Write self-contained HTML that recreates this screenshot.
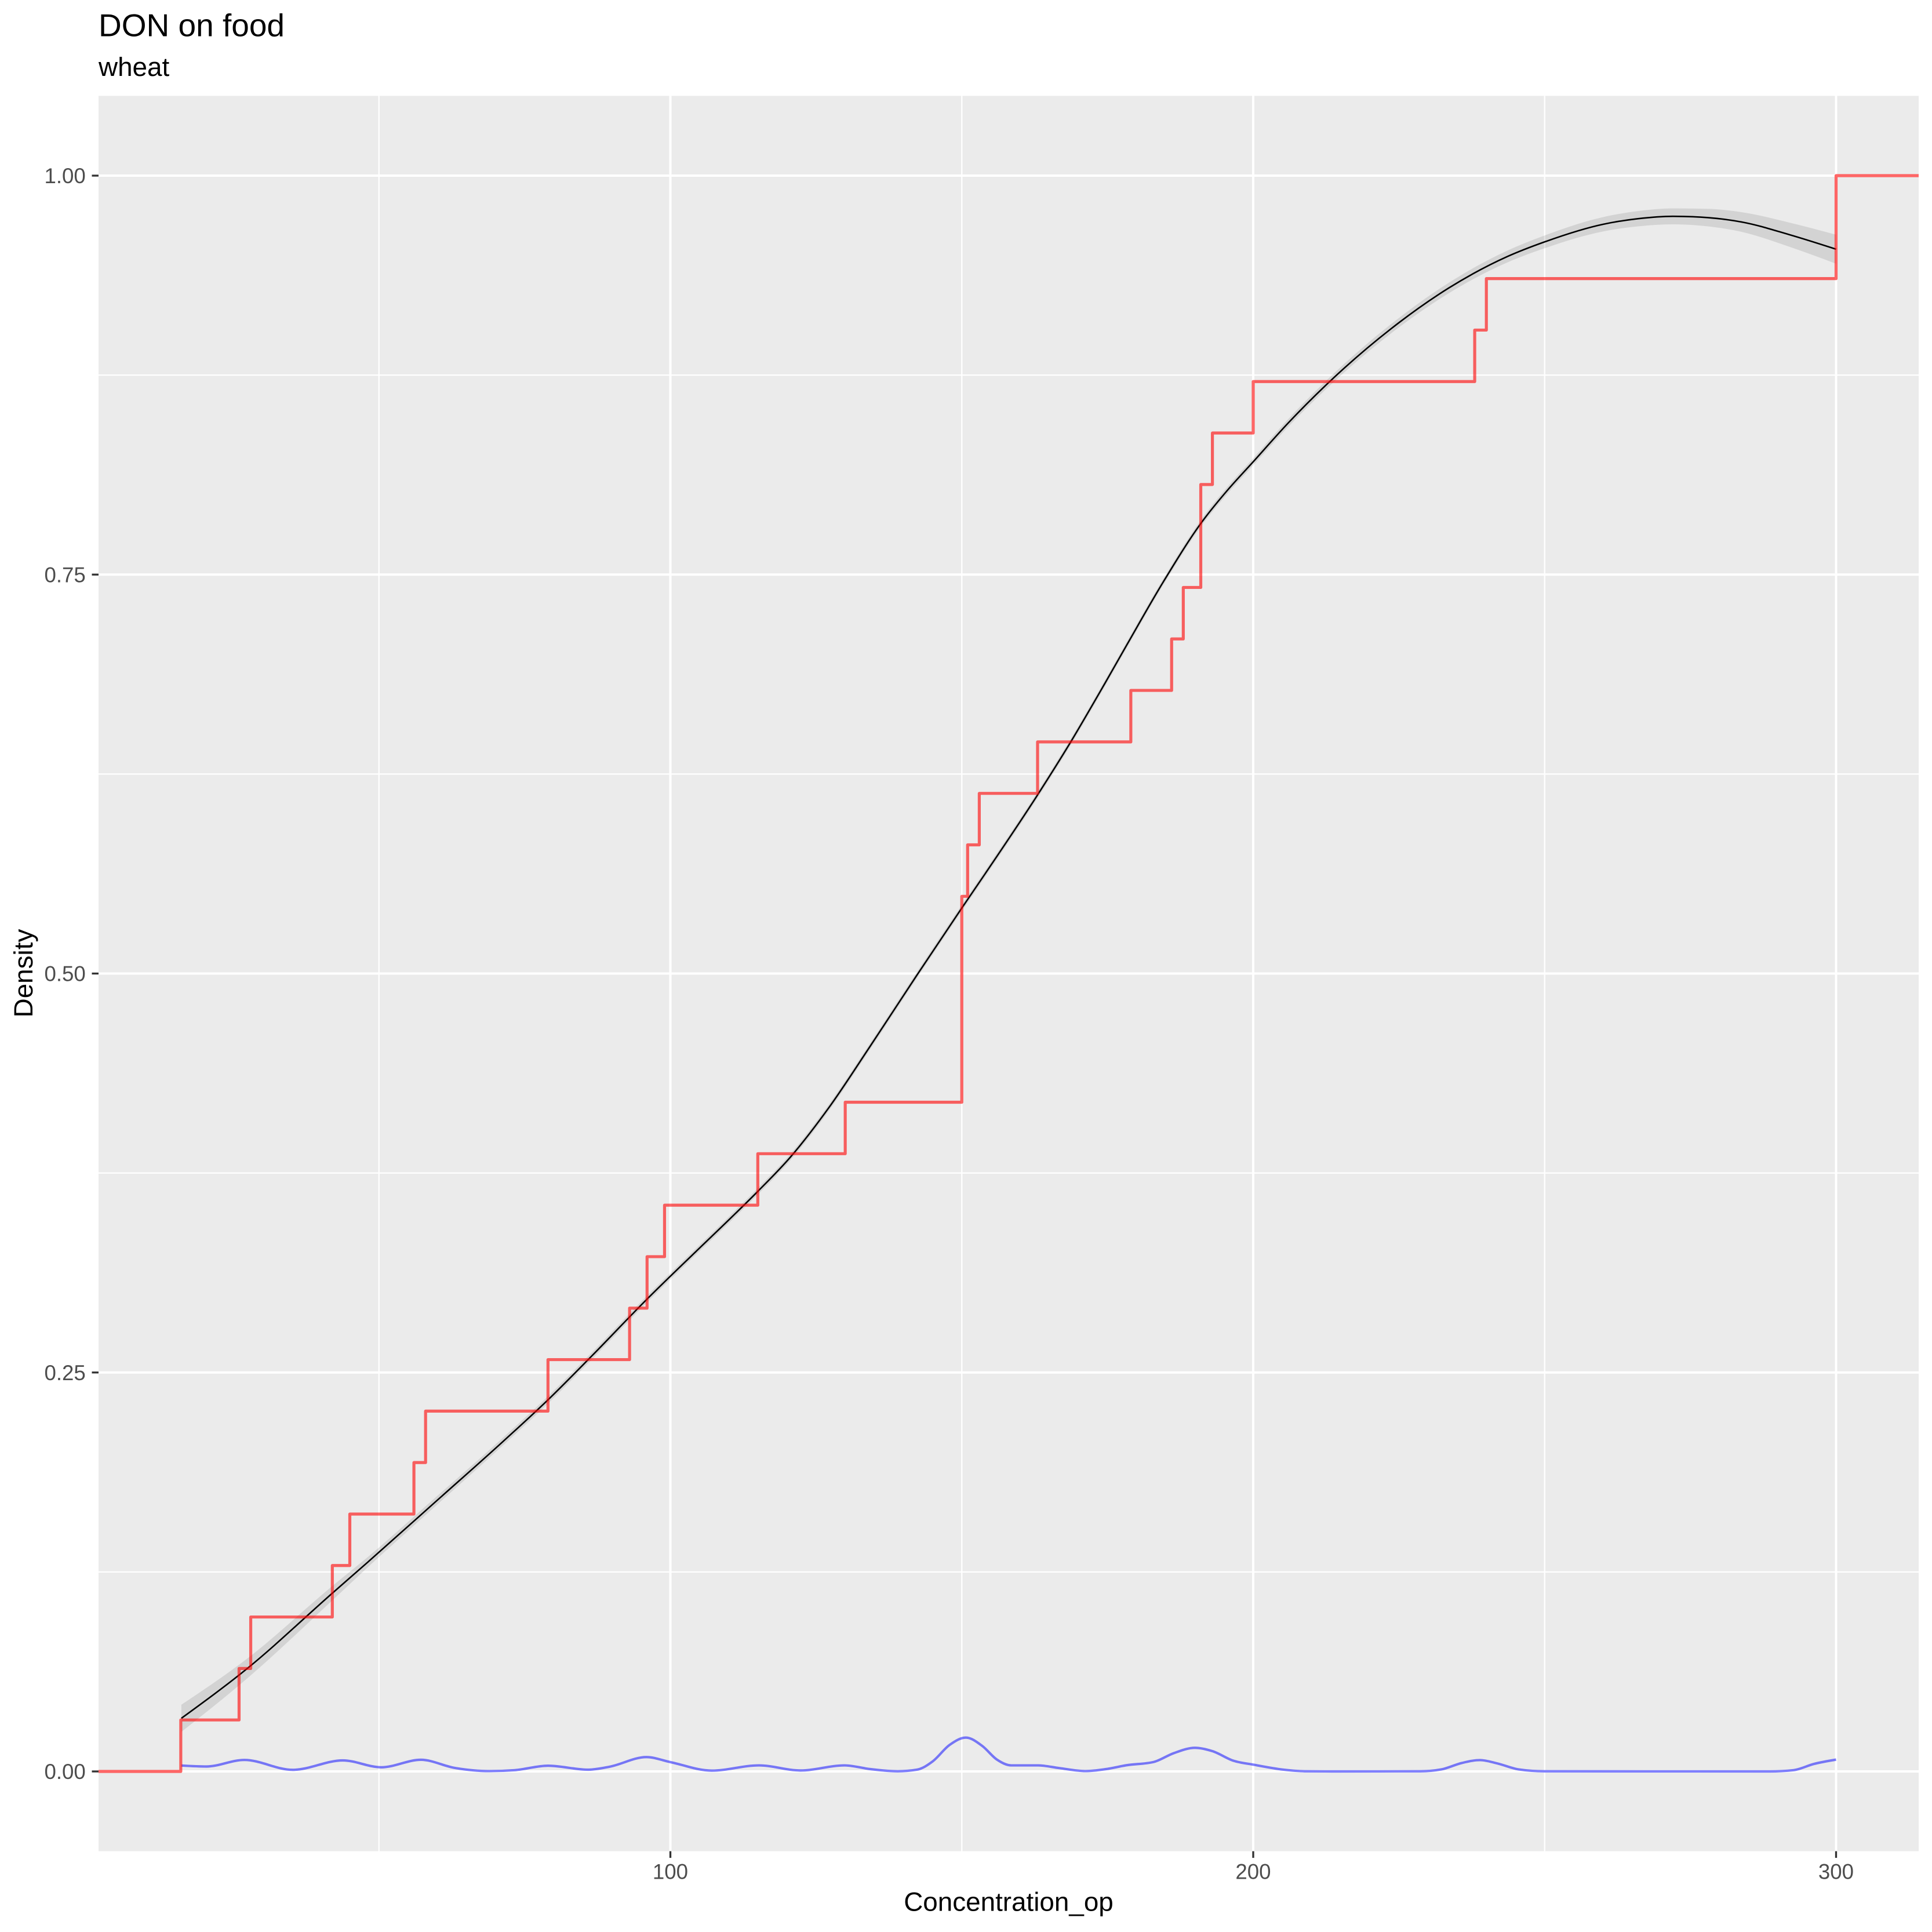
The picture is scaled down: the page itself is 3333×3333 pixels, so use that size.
<!DOCTYPE html>
<html lang="en">
<head>
<meta charset="utf-8">
<title>DON on food - wheat</title>
<style>
html,body{margin:0;padding:0;background:#fff;}
svg{display:block;}
text{font-family:"Liberation Sans",Arial,sans-serif;}
</style>
</head>
<body>
<svg id="chart" xmlns="http://www.w3.org/2000/svg" width="3333" height="3333" viewBox="0 0 3333 3333">
  <defs><clipPath id="panel-clip"><rect x="170" y="165.4" width="3140" height="3028.2"/></clipPath></defs>
  <rect x="0" y="0" width="3333" height="3333" fill="#ffffff"/>
  <rect x="170" y="165.4" width="3140" height="3028.2" fill="#EBEBEB"/>
  <g id="grid"></g>
  <g id="ticks"></g>
  <g id="marks" clip-path="url(#panel-clip)"></g>
  <text x="170" y="62.7" font-size="55" fill="#000">DON on food</text>
  <text x="170" y="131" font-size="45.8" fill="#000">wheat</text>
  <text x="1740" y="3296.7" font-size="45.8" text-anchor="middle" fill="#000">Concentration_op</text>
  <text transform="translate(56,1679) rotate(-90)" font-size="45.8" text-anchor="middle" fill="#000">Density</text>
</svg>
<script>
// ---- data ----
const observations = [16,26,28,42,45,56,58,79,93,96,99,115,130,150,150,150,150,151,153,163,179,186,188,191,191,193,200,238,240,300,300];

const smoothX = [16.1,27.5,42,48.1,59.9,71.3,78.9,86.5,96,104.3,110.7,115,120.6,127.3,134.2,142.3,149.9,154,163.1,168.5,174.5,178.4,184.5,191.3,195.5,200,206,213.1,223.7,233.6,243.6,250,260,266,272,278,284,292,300];
const smoothY = [0.0333,0.0648,0.1117,0.1312,0.1696,0.2068,0.2325,0.2603,0.2960,0.3255,0.3480,0.3635,0.3850,0.4165,0.4540,0.4990,0.5405,0.5625,0.6125,0.6440,0.6815,0.7065,0.7450,0.7835,0.8025,0.8207,0.8450,0.8709,0.9042,0.9297,0.9493,0.9585,0.9695,0.9730,0.9745,0.9737,0.9708,0.9630,0.9539];
const smoothSe = [0.0085,0.0062,0.0045,0.0032,0.0027,0.0024,0.0023,0.0022,0.0021,0.0020,0.0020,0.0020,0.0020,0.0020,0.0020,0.0020,0.0020,0.0020,0.0020,0.0020,0.0020,0.0020,0.0020,0.0021,0.0022,0.0022,0.0024,0.0026,0.0029,0.0033,0.0037,0.0040,0.0045,0.0048,0.0050,0.0055,0.0062,0.0076,0.0091];

const densityX = [16.1,20.4,26.9,35.2,43.8,50.4,57.2,63,68.9,73.3,79,85.9,89.5,95.9,99.95,107.1,115.2,122.3,129.9,134.2,139,142.3,145,147.9,150.7,153.5,156,158.5,163.1,166.7,171.2,174.8,178.3,182.9,186.4,190,193,196.6,200.1,205.2,208.8,213.7,228.7,232.3,235.8,238.9,241.9,245.5,250,288.6,292.7,296.2,300];
const densityY = [0.0037,0.0031,0.0072,0.0010,0.0069,0.0026,0.0073,0.0022,0.0002,0.0008,0.0036,0.0011,0.0029,0.0090,0.0059,0.0005,0.0038,0.0006,0.0038,0.0015,0.0001,0.0011,0.0063,0.0166,0.0212,0.0160,0.0075,0.0038,0.0038,0.0021,0.0002,0.0015,0.0039,0.0059,0.0115,0.0148,0.0127,0.0067,0.0042,0.0011,0.0001,0,0.0001,0.0013,0.0053,0.0071,0.0050,0.0013,0.0001,0,0.0008,0.0047,0.0074];

const xMajorTicks = [100,200,300];
const xMinorTicks = [50,150,250];
const yMajorTicks = [0,0.25,0.5,0.75,1];
const yMinorTicks = [0.125,0.375,0.625,0.875];
const xTickLabels = ["100","200","300"];
const yTickLabels = ["0.00","0.25","0.50","0.75","1.00"];

// ---- axis functions ----
const panelLeft = 170, panelRight = 3310, panelTop = 165.4, panelBottom = 3193.6;
function xScale(v){ return 1156.5 + (v - 100) * 10.055; }
function yScale(v){ return 3056 - v * 2753; }

const NS = "http://www.w3.org/2000/svg";
const gridGroup = document.getElementById("grid");
const tickGroup = document.getElementById("ticks");
const markGroup = document.getElementById("marks");
const chartSvg = document.getElementById("chart");

function line(parent, x1, y1, x2, y2, color, width){
  const el = document.createElementNS(NS, "line");
  el.setAttribute("x1", x1); el.setAttribute("y1", y1);
  el.setAttribute("x2", x2); el.setAttribute("y2", y2);
  el.setAttribute("stroke", color); el.setAttribute("stroke-width", width);
  parent.appendChild(el);
  return el;
}

// Monotone cubic spline (x-monotone Hermite) through the read points
function splineSegments(pts){
  const n = pts.length;
  const h = [], s = [], m = [];
  for (let i = 0; i < n - 1; i++){
    h[i] = pts[i + 1][0] - pts[i][0];
    s[i] = (pts[i + 1][1] - pts[i][1]) / h[i];
  }
  for (let i = 1; i < n - 1; i++){
    if (s[i - 1] * s[i] <= 0){ m[i] = 0; continue; }
    const p = (s[i - 1] * h[i] + s[i] * h[i - 1]) / (h[i - 1] + h[i]);
    const sgn = s[i] > 0 ? 1 : -1;
    m[i] = sgn * Math.min(2 * Math.abs(s[i - 1]), 2 * Math.abs(s[i]), Math.abs(p));
  }
  m[0] = (3 * s[0] - m[1]) / 2;
  m[n - 1] = (3 * s[n - 2] - m[n - 2]) / 2;
  let d = "";
  for (let i = 0; i < n - 1; i++){
    const c1x = pts[i][0] + h[i] / 3, c1y = pts[i][1] + m[i] * h[i] / 3;
    const c2x = pts[i + 1][0] - h[i] / 3, c2y = pts[i + 1][1] - m[i + 1] * h[i] / 3;
    d += "C" + c1x.toFixed(2) + " " + c1y.toFixed(2) + " " + c2x.toFixed(2) + " " + c2y.toFixed(2) + " " + pts[i + 1][0].toFixed(2) + " " + pts[i + 1][1].toFixed(2);
  }
  return d;
}
function toPoints(xs, ys){ return xs.map(function(x, i){ return [xScale(x), yScale(ys[i])]; }); }

// ---- gridlines ----
yMinorTicks.forEach(function(v){
  const el = line(gridGroup, panelLeft, yScale(v), panelRight, yScale(v), "#ffffff", 2.3);
  
  
});
xMinorTicks.forEach(function(v){
  const el = line(gridGroup, xScale(v), panelTop, xScale(v), panelBottom, "#ffffff", 2.3);
  
  
});
yMajorTicks.forEach(function(v){
  const el = line(gridGroup, panelLeft, yScale(v), panelRight, yScale(v), "#ffffff", 4);
  
  
});
xMajorTicks.forEach(function(v){
  const el = line(gridGroup, xScale(v), panelTop, xScale(v), panelBottom, "#ffffff", 4);
  
  
});

// ---- ticks and labels ----
xMajorTicks.forEach(function(v, i){
  const t = line(tickGroup, xScale(v), panelBottom, xScale(v), panelBottom + 11.5, "#333333", 3.33);
  
  
  const label = document.createElementNS(NS, "text");
  label.setAttribute("x", xScale(v));
  label.setAttribute("y", panelBottom + 48);
  label.setAttribute("font-size", "36.67");
  label.setAttribute("text-anchor", "middle");
  label.setAttribute("fill", "#4D4D4D");
  label.textContent = xTickLabels[i];
  
  
  chartSvg.appendChild(label);
});
yMajorTicks.forEach(function(v, i){
  const t = line(tickGroup, panelLeft - 11.5, yScale(v), panelLeft, yScale(v), "#333333", 3.33);
  
  
  const label = document.createElementNS(NS, "text");
  label.setAttribute("x", 147.8);
  label.setAttribute("y", yScale(v) + 13);
  label.setAttribute("font-size", "36.67");
  label.setAttribute("text-anchor", "end");
  label.setAttribute("fill", "#4D4D4D");
  label.textContent = yTickLabels[i];
  
  
  chartSvg.appendChild(label);
});

// ---- confidence ribbon ----
const upperPts = toPoints(smoothX, smoothY.map(function(y, i){ return y + smoothSe[i]; }));
const lowerPts = toPoints(smoothX, smoothY.map(function(y, i){ return y - smoothSe[i]; })).reverse();
const ribbon = document.createElementNS(NS, "path");
ribbon.setAttribute("d", "M" + upperPts[0][0] + " " + upperPts[0][1] + splineSegments(upperPts) + "L" + lowerPts[0][0] + " " + lowerPts[0][1] + splineSegments(lowerPts) + "Z");
ribbon.setAttribute("fill", "#000000");
ribbon.setAttribute("fill-opacity", "0.1");


markGroup.appendChild(ribbon);

// ---- smooth curve ----
const smoothPts = toPoints(smoothX, smoothY);
const smoothPath = document.createElementNS(NS, "path");
smoothPath.setAttribute("d", "M" + smoothPts[0][0] + " " + smoothPts[0][1] + splineSegments(smoothPts));
smoothPath.setAttribute("fill", "none");
smoothPath.setAttribute("stroke", "#000000");
smoothPath.setAttribute("stroke-width", "2.6");


markGroup.appendChild(smoothPath);

// ---- density curve ----
const densityPts = toPoints(densityX, densityY);
const densityPath = document.createElementNS(NS, "path");
densityPath.setAttribute("d", "M" + densityPts[0][0] + " " + densityPts[0][1] + splineSegments(densityPts));
densityPath.setAttribute("fill", "none");
densityPath.setAttribute("stroke", "#0000ff");
densityPath.setAttribute("stroke-opacity", "0.5");
densityPath.setAttribute("stroke-width", "4.2");


markGroup.appendChild(densityPath);

// ---- empirical CDF step line ----
const sortedObs = observations.slice().sort(function(a, b){ return a - b; });
let stepD = "M" + panelLeft + " " + yScale(0);
let lastFrac = 0;
sortedObs.forEach(function(v, i){
  const frac = (i + 1) / sortedObs.length;
  stepD += "L" + xScale(v).toFixed(2) + " " + yScale(lastFrac).toFixed(2);
  stepD += "L" + xScale(v).toFixed(2) + " " + yScale(frac).toFixed(2);
  lastFrac = frac;
});
stepD += "L" + panelRight + " " + yScale(1);
const stepPath = document.createElementNS(NS, "path");
stepPath.setAttribute("d", stepD);
stepPath.setAttribute("fill", "none");
stepPath.setAttribute("stroke", "#ff0000");
stepPath.setAttribute("stroke-opacity", "0.6");
stepPath.setAttribute("stroke-width", "5.2");
stepPath.setAttribute("stroke-linejoin", "round");


markGroup.appendChild(stepPath);
</script>
</body>
</html>
